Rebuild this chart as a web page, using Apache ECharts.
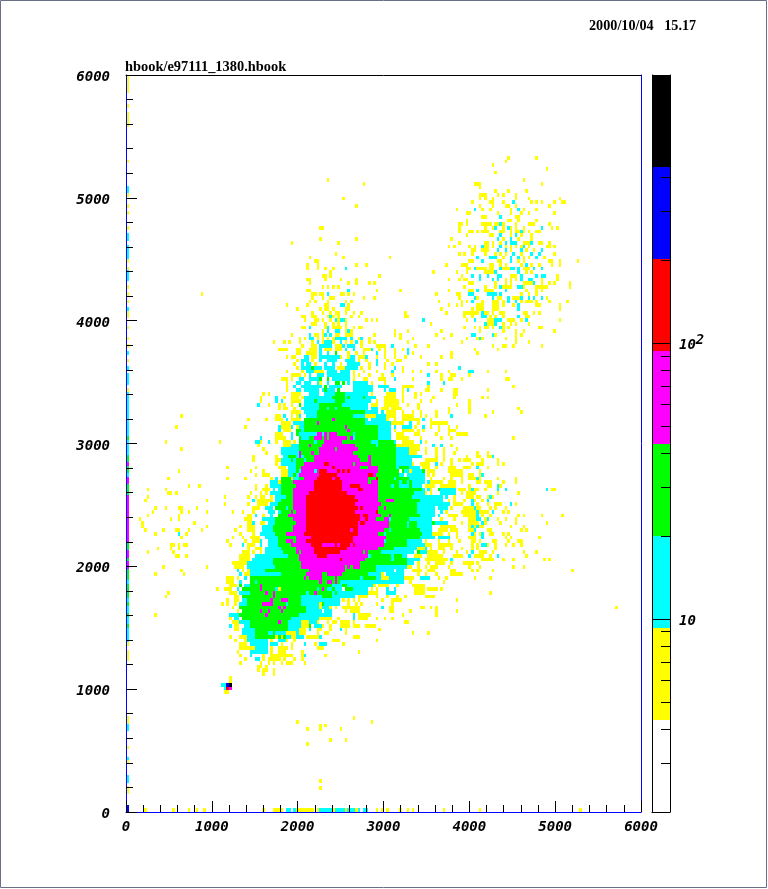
<!DOCTYPE html>
<html><head><meta charset="utf-8">
<style>html,body{margin:0;padding:0;background:#fff}#c{width:768px;height:889px}</style>
<script src="https://cdn.jsdelivr.net/npm/echarts@6/dist/echarts.min.js"></script>
</head><body><div id="c"></div>
<script>
const titleText = "hbook/e97111_1380.hbook";
const dateText = "2000/10/04   15.17";
const binSize = 30;
const colourEdges = [2, 4.32, 9.32, 20, 43, 93.6, 201, 435, 937];
const colours = ["#ffffff","#ffff00","#00ffff","#00ff00","#ff00ff","#ff0000","#0000ff","#000000"];
const levelCounts = {y:6, c:13, g:30, m:60, r:130, b:290, k:600};
const barMinorTicks = [3,4,5,6,7,8,9,20,30,40,50,60,70,80,90,200,300,400,500,600,700,800,900];
const barMajorTicks = [10,100];

// row, then level letter + x bins (bin = x/30, row = y/30); w = empty cell
const mainCloudBase = [
[112,110,'c',74,92],[109,106,'c',71,96],[109,106,'g',76,90],[105,100,'c',68,102],[105,100,'g',71,95],
[99,90,'c',63,110],[99,90,'g',67,104],[99,95,'m',76,88],[94,90,'m',70,94],
[89,80,'c',59,118],[89,80,'g',61,110],[89,80,'m',66,97],[79,70,'c',55,116],[79,70,'g',60,106],[79,70,'m',66,97],
[69,66,'c',51,108],[69,66,'g',58,102],[69,66,'m',69,89],[65,62,'c',48,103],[65,62,'g',54,90],
[61,58,'c',46,88],[61,58,'g',49,78],[57,52,'c',46,78],[57,52,'g',48,65],[51,47,'c',46,68],[51,47,'g',50,61],[46,43,'c',49,53]
];
const mottle = [
"112 w75 79 85 y88","111 w77 y82 87 91","110 w79 y74 c84 w90","109 c78 81 88 y72 w94","108 c76 79 86 90 y72 w95","107 c75 80 84 89 w71 y95","106 c73 77 85 91 y69 w94","105 c70 76 83 89 94 y67","104 c72 79 88 95 y68 w100","103 c71 75 82 91 96 y69 w101",
"102 c70 76 88 93 y68 w100","101 c69 72 88 94 y67 w98","100 c68 73 87 93 y65 w99","99 c66 69 92 97 y63 w105 y108","98 c66 68 95 101 y63 w107","97 c65 69 97 102 y64 w108","96 c64 68 98 103 y63 w109","95 c65 69 99 104 y64 w107","94 c66 70 98 103 y63 w106 109","93 c65 68 99 102 y63 w108",
"92 c64 67 100 103 w106 y110","91 c63 66 98 102 y62 w108","90 c62 65 99 104 w109 y112",
"89 c62 64 100 106 y59 w113 116","88 c61 103 108 y60 w115","87 c61 101 107 w116","86 c60 104 109 w114 117","85 c61 100 106 111 w116","84 c60 103 108 w117 120","83 c60 101 107 w115 119","82 c62 103 106 w118","81 c59 102 108 w117","80 c60 104 w116 119",
"79 c60 102 105 w113 117","78 c59 101 106 w115","77 c61 100 105 w112 116","76 c60 102 w114","75 c62 100 105 w113","74 c63 103 w112","73 c61 100 106 w110 115","72 c64 102 w112","71 c62 100 w108 113","70 c60 64 99 w109 112",
"69 c58 61 94 100 w105","68 c59 62 97 w107","67 c60 93 99 w106","66 c58 63 92 98 w104","65 c56 60 88 w101","64 c57 61 87 w100","63 c55 59 85 w99","62 c54 60 83 w97","61 c50 56 76 w86","60 c51 58 74 w84","59 c52 70 w85","58 c50 55 72 w82","57 c49 60 w76","56 c50 62 w74","55 c49 58 w73","54 c51 63 w76","53 c49 61 w70 74"
];
const sparseTop = [
"171 y78","170 y92","166 y84","164 y89","163 y128","159 y129","158 y75-76 129","157 y129","155 y75 89 126","154 y64 82 129",
"153 y125 127","151 y81 129","150 y71 84 102","149 y73-74","148 y70 74 89 93 124","147 y70 74 77 80 c85","146 y79 119 128","145 y76-77 79 98",
"144 y70-71 77 83 89 125 129","143 y71 86 89 94 96","142 y76 78 80 82","141 y70-71 c86 y97 106 125","140 y29 72-73 75-76 c78 y83-84 86 88 120 128-129",
"139 y72 76 79-80 92 96 129","138 y71 73 78 85 87 121","137 y62 70 77-78 c83-84 y86 125 128","136 y66 75 77-78 80 85-86 122",
"135 y72 76 79 81-82 85 88 91 108 124","134 y68-69 72-73 78 c79 y80 82 87 90 108-109","133 y69 73-74 76 79 c81 y82 c83-84 y85 93 95 97 c115",
"132 y72-73 77 80 82 85 118","131 y68-69 c71 y77 c78 y80-83 85 88 90-91","130 y76 c78 c81-82 y85 c86 y87 104 109 122",
"129 y64 c71 y73-74 76 c77 79 y81-82 85-86 87 96 104 106 120 126","128 y67 69 c71-72 y74 76 78 80 c81-85 87 y90 c91 y94 106 111 123",
"127 y57 61 63 67 72 c74 y76 c77-79 y80 c83 y85 87 c89 y91 94 96 109"
];
const mainCloudA = [
"126 y68 72-73 c75-79 y81-83 c84 86-88 y91 97-100 c103 y112 117","125 y59 60-62 66-67 71-73 c75 y77-79 81-83 c85 88 y92-94 c95 y98 100 104 107 c109",
"124 y66-67 70-73 c75 78 g81 y86 89 92 c97 y100 104 c109 y111 126 136","123 y62 64-65 c69-70 y72-73 c75-82 y83 86 c87-88 y90-92 c93 y97 100 104 108 114 122 126",
"122 y66 c68-70 y72 c75 78-81 85-88 y90 93 c97 y101 105-106","121 y65 c68 70-71 y73 c77 80 y83 c86-90 y94 c97 y100 103 117 120",
"120 y66 c68-71 g72 c73-75 77-80 y82-84 c85-89 y91 94 100 c104 y107 c129","119 y62 68 c70-72 y73-76 c78-81 83-86 y88 92 97 c103 y107 111 114 120 125 133-134",
"118 y64-67 69 c71 74-76 78-86 y88 90 94 99 103 c117 y122 126-127","117 y60-62 64 c67-68 71-74 g75 78 c80-86 y88 92-93 98-100 c104 y111 122 125-126 130",
"116 y62 c66-67 69-71 74 y75 c78 g81-82 84 c86 88-93 y95 100 c117 123","115 y62 c65 68-75 g77 c79-83 88-95 c98-101 y107-111 117",
"114 y62 c66-67 69-74 76-80 g77 82 c88-95 100 102-104 y107 c109 y116-117 122 127-128","113 y53 55 64-67 c71-74 77-93 g81-84 y95 101-104 107 112 114 127-128",
"112 y52 c58 y61 64-66 68 c69-75 77-91 g80-84 86 92 c93-96 y100-104 107 112 119 127","111 y52 c58 60 y64-66 67 c69-73 g73 c75-80 g81-84 c86-94 y97 100-105 107 114 118 133",
"110 c51 y55 59 61 64 g67 c69-75 g75-83 c86-93 y95-97 100-105 109 113 128","109 y59 61-62 65 c68-75 g75-77 82-86 c87-93 c97 y99-101 103-106 113 125 133",
"108 y64-67 c69-73 g74-80 82-91 g92 c93-97 c99 y101-104 107 111 114 120 125","107 y58-59 c61 y64 66-67 c67 c70-73 g74-87 c88-92 y93-96 c97-100 y101-104 107-111 114 116 120 c126",
"106 y47 54 58-60 c62 y64-67 c69-72 g69-79 m80 g81-92 c93 95 c97-100 y101 104 107-113 c115 y118","105 y60-63 c65-67 g69-92 m74 c93-97 c99-101 y103-107 c110 y113 118-124",
"104 y46 c59 y60-63 c64 y66 c67-72 g69-85 m85 g86-92 g93-97 c98-100 c104 c107-110 y112 c115 y118 121 125 128","103 c59 y61-63 g66-67 g69-85 m86 g87-97 c99-101 y104 107-111 113 115 121 125-127",
"102 y58-60 c64 g66 c67-73 m74-75 77 79-81 g83-84 86 90-97 c99-101 y105-107 112-113 120 125 128-130 131-132","101 c52 y58-60 61 c64 g67 g71-75 m73-75 77 79-85 87 g90-97 c98-101 y105-109 114 122 126",
"100 c50-51 y52 c55 y58 61-63 g67-72 g75 m77 78-83 g85-88 89-95 c95 g98-103 c104 y107-111 c114 y116","99 y51 61-63 g67-71 m71 g73-75 m76-89 g89-96 g100-104 y105-113 c119 122 y126",
"98 y53 c60-66 g67-71 g72 m75-80 g81 m82-89 g90-97 98-104 c105-109 y110-113 116 120 123 128","97 y54 c60-66 m67 g69-71 m72 75 m76-88 g88 g90-98 100-104 c105-110 y110-112 116 120 123 127 136",
"96 y49 58 c61-66 g63-65 m67 g69-71 m73-90 g90-93 m94 g96-101 102-105 c105-109 c110-114 y120 123 132","95 y49 58-60 c60-63 g64 66-68 71 m73-90 g91-93 m94 g97-105 c105-109 c110 y116-120 123 126 129 131-133",
"94 y58 c60-63 c64 g66-68 m69-76 r77-79 m79-87 g88 m90-93 m94 g97-100 102-104 c105-110 y111 114-117 c120 y122 126 134 136","93 y39 50 59-61 c63 g66-67 m68-79 r80 m81-90 g91-93 m94-97 g98-104 106-109 c110-113 y115-117 120 125-127 131-133",
"92 y48 53 60-62 c64 g66 m68-72 c73 r75-77 m79-81 r82 84 86 m88-97 g98-103 105 107 c109 c111-114 g115 y117-119 125-130","91 y50 53-55 60-62 c63 g65 m67-72 r75-81 m82-93 r94-95 m96 g98-104 g105 c110 c111-115 y117 119 126-130 133",
"90 y39 46 56 c58 g60-63 y64 g67 m69-73 r74-79 81-83 m83-93 g94 r97 g99-103 105-109 c111-115 y118 123 126 130 133-136","89 c56-58 g60-64 m65-72 r73-83 m84-90 g94 m96 g99-104 107 c109 111-115 y118-122 125-127 130",
"88 y50 54 c56-58 g60-65 m66-72 r73-83 m84-86 r87-89 90 m91-97 g98-101 104 c106-109 111-114 y116-119 122-127 133","87 y50 53-55 c57 g60-65 m65-72 r73-84 m84-88 r90-91 m92-97 g98-103 103-108 g109-114 c115 y118 g121 c122-127 y129-131 133-136",
"86 y48 52 54 c56-58 g60-65 m65-70 r71-85 m86-89 90-96 g98-105 106-111 c112-114 y116 118 c122-127 y130 132-134","85 y38 47 50 52-53 56 c58 c60 g62-65 m65-69 r70-89 m89-97 g99-105 106-110 c113-122 c124 y127 132-134",
"84 c49 y51-56 c58 g60-65 m65-69 r70-89 m90-98 g98-100 m101-103 g105-113 c114-122 y125 127 131"
];
const mainCloudB = [
"83 y38 47 51-54 c56-58 g59-65 m65-70 r70-89 m89-98 g99-103 105-112 c114-120 121-125 y127-130","82 y49-51 c54-56 g58-61 63 m65-70 r70-89 r91 m92-97 m100 g101-103 105-111 112 c114-119 121-124 y126 131-135",
"81 y41 45 49 c55-57 g60-63 m64 m66-70 r70-89 m89-95 r97 g99-103 105-112 c113 115-119 c122 y124 130-135","80 y47-48 c50 y53 c56 g59-62 m63-65 m66-70 r70-90 r92-93 m94-98 m102 g104-113 c114-119 c121 y125-128 131-135",
"79 y46-48 c53-55 g58-62 m65 66-70 r70-90 r93 m94-96 g97 m100-101 g103-109 c110-114 115-118 y122 127 133-135","78 y47-48 c49 y52-53 c56 g58-61 g62 m66-70 r70-89 r91-93 m93-97 m98-101 g104-108 110-112 c113-118 g119 c120-124 y130 133-135",
"77 y44 47-49 c53-56 g57-63 m65-69 r70-89 m90-97 98-101 g103-108 110-112 c114-118 y122-127 133-135","76 y42 47-49 c53-55 g57-63 m65 67 68-70 r70-86 m87 r88-90 m90-99 g103-108 109-113 c114-118 y121-124 126-128 134",
"75 y44 49 c52-54 c56-63 g58-62 m62-68 r69-87 r88-90 m90-97 g102-108 109-114 c115-118 y119-122 125 128 134","74 y41 45 48-51 c54-58 g59-63 m66-71 r72-87 m90-100 g103-108 109-113 c114-119 121-125 y128 134",
"73 y39 46 49-51 c52 c55-58 g59-62 m62-64 66-69 r70-87 m88-99 g101-104 105-108 c109-114 y116 121 125 129","72 y40 45 c45 y47-49 c52 55-58 g59-62 62-64 m64-71 r72-75 m76-80 r81 r83-86 88 m89-99 g100-108 c110-113 y116-118 121-126",
"71 y47 50-52 c54-58 g62-65 m66-71 r73-86 m86-97 g99-103 c104-110 y113-115 118 121-123 126 130","70 y45-47 49 52 c54-58 g62-63 64 67 m69-72 r73-82 m83-91 g92 94-97 c99-109 g113 y117-120 123 128 132",
"69 y44-47 c50-53 56-62 g63-67 m67-74 r74-77 m78-93 g95-101 104-106 c108 y112-114 117-122 127-130 135-137","68 y44-47 c49-53 54-56 g57-66 m67-83 r83 m85-92 g93-102 104-108 c109-113 y116-124 c126",
"67 y41-45 46 c47-56 g57-67 m68-91 g91-97 98-108 c109-111 y113 117 120-123 126 131-133 136","66 y42-45 c47-53 54-56 g58-67 m68-84 g85 87 m88-91 g91-97 c97-102 104-107 y109-110 113 116 118-120 125",
"65 c43 y45 47 c49-53 g56-61 62-69 m71-84 g85-90 91-96 c97-101 103 105-107 y111-114 117-119 126-127","64 c44 y46-47 c49 52-59 g60-69 m70-75 g77 m78-83 g85-90 91-93 c95-97 y99 c104-107 y113 116 120 126-130",
"63 y39-41 43 c46 g48-50 g51-66 68 m69 71-75 g76 79 m81 g84-90 92-96 y99-101 c104-108 y108-111 c114-117 y121 124 135","62 y39-41 c44 g48-49 g51-74 m75 78-79 81 c83-93 c95-98 100-102 104-107 y110 123",
"61 y40-42 g44 g48-51 m52 g53-79 c80 g84-85 c86-95 y96 98-101 105 111-115","60 y38-40 c43 g45-51 m52 g53-57 y59 g60-71 m76 c78-79 g80 85-87 c88-93 y95 97 c101 104 y112-115 117-120 122",
"59 y40-42 c44-46 g48-53 m54 57 g59 61 64-67 m73 g76-79 81 c85-93 y94-97 c101-104 y112-115","58 y42-43 g45-48 50-56 m57 g58-63 65-67 c68-75 g77-79 c81-88 y90-93 97 101 105 108 116-119",
"57 y39 42-43 c45 g47-56 m56 60-62 g65-67 c70-82 y84 86 88 90 99 103-105 106 128","56 y37 39 42 c44-45 g47-52 m53-56 g59 61 64-67 c68-74 y75 g76 c79-82 y86 89 91 97 103",
"55 y41 g44-50 52 54-58 m59 61 g64-70 c70-74 y75 79 81 84-86 87-90 c99 y102-103 114-115 118 120","54 y43 g45-51 m52 55 g57-60 m60 g63-69 c70-74 77-79 y85 87-90 102-103 110 120 128",
"53 c40-43 g44-52 m54 g57-62 64-66 c67-76 79 88 y90-94 107 120","52 y40 c42-43 g45-50 51-63 c64-74 y75-79 82 c88 y90-93 97 100 103",
"51 y41-43 c44-46 g48-59 m59 g61-62 c64-67 y68-70 c71-73 y74 78 80-81 83-86 88 108-109","50 c40 y42-43 c46-47 g48-62 c64-66 y68-70 g71 c73-75 y76 79 83-86 88-90 93-96",
"49 y42-43 c45-49 g50-62 c64-65 y67-69 c71 y74-75 79 c83 y85 98","48 c45-49 g50-53 c55-56 58-61 y62-65 67-69 74 77-78 85 111 117",
"47 y40 44-46 g50-53 55-57 y58 60 64-65 c66 y70-74 c75 y88-90","46 y42 46 c47-50 50-54 y56 c59-61 y62 65 80-82 97",
"45 y44-46 c48-54 56-58 y60 64 c69 y73 c75-76 77 y84","44 y44-49 c50-54 y56 59-62 64 74-76",
"43 y43 c48 50-54 y56 59-61 68 90","42 y44 c48 y53 56-60 61-64 68 c69 y77","41 y46 c50-51 y53 55-59 61 65 68","40 y44 52 55 57 60 62-64 69",
"39 y52 51 54","38 y51 54 53 57","37 y53 57","36 y40"
];
const upperCloud = [
"177 y148 159","176 y147","175 y142","174 y163","173 y143","171 y154","170 y135-137 161","169 y137","168 y143 148 155","167 y137-139 144 146 151","166 y137 139 142 151 156 168",
"165 y134 141-142 146 c150 y157 159 161 166 169-170","164 y137 142 147-148 151 164","163 y128 c135 y138 141 149 c152 y154 159","162 y132-133 144 149 153 156 166",
"161 y138-139 c145 y151-152","160 y132 148-149 152 159","159 y129-130 132 138-141 143-144 c145 y146 151 156-158 164","158 y129 139 142 c143 y146 c148 y149 151 154 c161 y165 167",
"157 y129 133-134 136 138-140 145-146 149 151-152 c153 y154 156 159-160","156 y132 141-142 c145 y149 c151 y153 157","155 y126 c144 y146 c149 y152 157",
"154 y129 139-140 142 145 c147 149-151 y154-156 c157 y160-161 164","153 y125 127 133 135 c138 y139-140 142 c145 y147 149 151 153 c154 y156 163-164 166",
"152 y134-135 138-140 c144 147 y149 c153 y155 158 c161","151 y129 131 134 139 143 145 147 c150 y153 c157 160 y166","150 c136 141-143 y146 c149 152 y154 156 c159 y162",
"149 y133-134 c138 y144-145 c149 y152 154 164-165 168 175","148 y124 130-132 141-142 145 147 153 c155 y157 160 165 168","147 y132-133 c135 y136-139 141-142 c145 y146-148 c149-150 152 y154-156 c158 161",
"146 y119 128 132 139-140 141-142 c143 152 y155 157","145 y130 c134 137 140 144-145 y149-151 c153 159 161-162 y167","144 y125 129 131-132 c137 142 144 y147 149 151 c153 156-157 y161 167",
"143 y133-134 143 147 149 154-157 c158 y161 164 166 172","142 y131 139 143 c145 y146-149 c152-153 y154 159-163 172","141 y125 133-134 c136 y139-142 c147 y155 159 161",
"140 y120 128-129 c133-134 140-143 145 y153 156 159","139 y129 c135 y136 c142 y144-145 c148 y150-152 c153 156 158 161 y163","138 y121 130 132 c134 y138 142-144 146 c148 151 y153 155-157 159 164 171",
"137 y125 128 130 136-138 142-144 146 150 c152 y159-160 168","136 y122 134 136-138 142-144 c152 y168","135 y124 131-136 c138 y139-140 142 145-146 154-155 158 160",
"134 y131 134 c138-139 y141 143 146 c152 y155-156","133 y132 c135 y140-142 c143-145 y148-150 153 c155 y168","132 y118 c139 y140-142 c143 y146 149 151 156",
"131 y131 135 137 139-140 142 c145 y146 148 160-161","130 y122 137 146 151 154 166","129 y120 126 c134-135 142 y143 151 153","128 y123 132 136 c137 y138 147 151","127 y130 151 156","126 y142 146-147 150 161","125 y135 144"
];
const rightFringe = [
"119 c133-134 y140 147","118 y133","117 y147-148","115 y150","114 y140","112 y138 140","110 y133","109 y152","108 y133 142 153","107 y139","101 y150",
"97 y140","96 y136-137 140-141 c142","95 y138 144","94 y134 137-138 144 146","93 c136 y140","92 y137","91 y134 137 c138","90 y134-135 c136 y137 144 151",
"89 y136-137 139-141 146 151","88 y133 140-141 c144 y145","87 c134 y135 139 c144 147 163 y165-166","86 y133-135 144 152","85 y136-137 140 c141 y142","84 c134 y135 138 c140",
"83 c134 y136 140 143-145 c149 y151","82 y133 c135 y136-137 141 143 147","81 c136 y137-140 c142 y146 148","80 y134 c136 y138 141 152 154 161 169","79 y133-134 c136-137 y139 c140 y144 147 151",
"78 y134 136 c138 y139 145 151 163","77 c134 136 y137-138 149 154","76 y133-134 c135 y140-141 153 155","75 c134 y135 137 c138 y141-142 146 148","74 y133-135 c138 y147 149 160",
"73 y134-135 137 142-143 148 152-153","72 y134 136 c138-139 y140 143 147 150 153","71 y134 136 143","70 c134 y137-139 142 154 159","69 c133 y135-138 141 c144 y155",
"68 y138-142 146 150 162 164","67 y134","66 y133 137 150 154","65 y134 136 142 173","63 y135 141","59 y141","55 y190"
];
const leftSparse = [
"107 y21","104 y19","100 y15 36","98 y21","92 y20","90 y16","88 y24 28","87 y8 15","86 y16-17 19","85 y8","84 y7 31","82 y11 15 20-21 27","81 y10 21 24 31","80 y8 20","79 y5 17 20",
"78 y6 26","77 y6 31","76 y7 14 19-20 24 29","75 y11 c20 y23","74 y21","72 y17-18 20 22-23","71 y12 17 20","70 y8 18","69 y19-20 23","66 y14 31","65 y21","64 y11 22","60 y35","59 y16","58 y15","53 y11"
];
const lowerSparse = [
"35 y40","34 c37-38 b39 k40","33 c38 r39 m40","32 y38-39","25 y88","24 y66 95","23 y77 75","22 y70 75 83","19 y79 85","18 y70","8 y75","6 y75"
];
const bottomStrip = "0 y7 18 24 27 30 53 57-58 59-60 c62-63 65 y66-72 74 c75-79 y80 c81-84 y85 c86-89 y89 c90 92-93 y97 99 101 106 109 111 123 137 176 b0";
const leftStripRuns = ["y",198,199,"y",195,197,"y",191,191,"y",186,189,"y",176,176,"c",168,169,"y",167,167,"y",164,164,"y",162,162,"y",158,158,"c",155,156,"c",150,153,"y",149,149,"y",147,147,"c",144,146,"y",142,142,"y",140,140,"y",138,138,"c",136,136,"y",134,135,"y",131,131,"y",128,128,"y",126,126,"c",124,124,"y",122,122,"c",120,120,"c",116,118,"y",114,114,"c",113,113,
"c",109,112,"c",102,108,"g",101,101,"c",97,100,"g",95,96,"m",94,94,"g",92,93,"c",91,91,"m",89,90,"g",86,88,"m",73,85,"g",71,72,"m",69,70,"g",68,68,"m",66,67,"g",63,65,"c",62,62,"g",58,61,"c",57,57,"g",56,56,"c",54,55,"g",53,53,"c",51,52,"g",50,50,"c",49,49,"c",47,48,"c",46,46,"y",45,45,"y",42,43,"y",41,41,"y",24,25,"c",22,23,"y",17,17,"c",14,14,"y",13,13,"c",8,9,"y",5,6,"b",0,1];

function buildCells(){
  const m = new Map();
  const put = (r,b,l)=>{ if(l==='w') m.delete(r*1000+b); else m.set(r*1000+b,l); };
  mainCloudBase.forEach(([a,z,l,s,e])=>{for(let r=z;r<=a;r++)for(let b=s;b<=e;b++)put(r,b,l);});
  const parse = row=>{
    const t=row.split(' '), r=+t[0]; let l='y';
    t.slice(1).forEach(k=>{
      if(/^[a-z]/.test(k)){l=k[0];k=k.slice(1);}
      const p=k.split('-'), s=+p[0], e=+(p[1]||p[0]);
      for(let b=s;b<=e;b++)put(r,b,l);
    });
  };
  [mottle,sparseTop,mainCloudA,mainCloudB,upperCloud,rightFringe,leftSparse,lowerSparse,[bottomStrip]].forEach(a=>a.forEach(parse));
  for(let i=0;i<leftStripRuns.length;i+=3)for(let r=leftStripRuns[i+1];r<=leftStripRuns[i+2];r++)put(r,0,leftStripRuns[i]);
  const out=[];
  m.forEach((l,k)=>{const r=Math.floor(k/1000),b=k%1000;out.push([b*binSize,r*binSize,levelCounts[l]]);});
  return out;
}
function colourOf(v){for(let i=colours.length-1;i>=0;i--)if(v>=colourEdges[i])return colours[i];return colours[0];}
const barData = colours.map((c,i)=>[colourEdges[i],colourEdges[i+1]]);
const labelFont = {fontFamily:'DejaVu Sans Mono',fontStyle:'italic',fontWeight:'bold',fontSize:14,color:'#000'};
const plain = v=>String(v);

const chart = echarts.init(document.getElementById('c'),null,{renderer:'canvas'});
chart.setOption({
  animation:false,
  backgroundColor:'#fff',
  grid:[{left:126,top:75,width:515,height:737},{left:652,top:75,width:18,height:737}],
  xAxis:[
    {gridIndex:0,type:'value',min:0,max:6000,interval:1000,z:6,splitLine:{show:false},
     axisLine:{lineStyle:{color:'#0000ff',width:1}},
     axisTick:{inside:true,length:11,lineStyle:{color:'#000',width:1}},
     minorTick:{show:true,splitNumber:5,length:7,lineStyle:{color:'#000',width:1}},
     axisLabel:Object.assign({margin:8,formatter:plain,hideOverlap:false,showMinLabel:true,showMaxLabel:true},labelFont)},
    {gridIndex:0,type:'value',min:0,max:6000,position:'top',z:6,axisLine:{onZero:false,lineStyle:{color:'#000'}},axisTick:{show:false},axisLabel:{show:false},splitLine:{show:false}},
    {gridIndex:1,type:'value',min:0,max:1,position:'bottom',z:6,axisLine:{lineStyle:{color:'#000'}},axisTick:{show:false},axisLabel:{show:false},splitLine:{show:false}},
    {gridIndex:1,type:'value',min:0,max:1,position:'top',z:6,axisLine:{onZero:false,show:false},axisTick:{show:false},axisLabel:{show:false},splitLine:{show:false}}
  ],
  yAxis:[
    {gridIndex:0,type:'value',min:0,max:6000,interval:1000,z:6,splitLine:{show:false},
     axisLine:{lineStyle:{color:'#0000ff',width:1}},
     axisTick:{inside:true,length:11,lineStyle:{color:'#000',width:1}},
     minorTick:{show:true,splitNumber:5,length:7,lineStyle:{color:'#000',width:1}},
     axisLabel:{margin:16,formatter:v=>'{n|'+v+'}',showMinLabel:true,showMaxLabel:true,
       rich:{n:Object.assign({},labelFont,{padding:[5,0,0,0]})}}},
    {gridIndex:0,type:'value',min:0,max:6000,position:'right',z:5,axisLine:{onZero:false,show:true,lineStyle:{color:'#0000ff'}},axisTick:{show:false},axisLabel:{show:false},splitLine:{show:false}},
    {gridIndex:1,type:'log',logBase:10,min:colourEdges[0],max:colourEdges[colourEdges.length-1],position:'right',z:6,splitLine:{show:false},
     axisLine:{show:true,onZero:false,lineStyle:{color:'#000'}},
     axisTick:{show:true,inside:true,length:9,customValues:barMinorTicks,lineStyle:{color:'#000'}},
     axisLabel:{show:true,customValues:barMajorTicks,margin:9,padding:[5,0,0,0],
       formatter:v=>Math.round(v)===100?'{n|10}{s|2}':'{n|10}',
       rich:{n:labelFont,s:Object.assign({},labelFont,{padding:[0,0,10,0]})}}},
    {gridIndex:1,type:'log',logBase:10,min:colourEdges[0],max:colourEdges[colourEdges.length-1],position:'left',z:6,splitLine:{show:false},
     axisLine:{show:true,onZero:false,lineStyle:{color:'#000'}},
     axisTick:{show:true,inside:true,length:18,customValues:barMajorTicks,lineStyle:{color:'#000'}},
     axisLabel:{show:false}}
  ],
  series:[
    {type:'custom',xAxisIndex:0,yAxisIndex:0,clip:true,data:buildCells(),z:2,silent:true,encode:{x:0,y:1},
     renderItem:(p,api)=>{
       const x=api.value(0),y=api.value(1);
       const a=api.coord([x,y+binSize]),b=api.coord([x+binSize,y]);
       const x0=Math.round(a[0]),y0=Math.round(a[1]),x1=Math.round(b[0]),y1=Math.round(b[1]);
       return {type:'rect',shape:{x:x0,y:y0,width:Math.max(1,x1-x0),height:Math.max(1,y1-y0)},style:{fill:colourOf(api.value(2))}};
     }},
    {type:'custom',xAxisIndex:2,yAxisIndex:2,clip:true,data:barData,z:2,silent:true,encode:{y:[0,1]},
     renderItem:(p,api)=>{
       const lo=api.coord([0,api.value(0)]),hi=api.coord([1,api.value(1)]);
       return {type:'rect',shape:{x:lo[0],y:Math.round(hi[1]),width:hi[0]-lo[0],height:Math.round(lo[1])-Math.round(hi[1])},style:{fill:colours[p.dataIndex]}};
     }}
  ],
  graphic:[
    {type:'rect',silent:true,z:0,shape:{x:0.5,y:0.5,width:766,height:887},style:{fill:'none',stroke:'#6a6f85',lineWidth:1}},
    {type:'text',silent:true,left:125,top:60,style:{text:titleText,fontFamily:'Liberation Serif',fontWeight:'bold',fontSize:14.4,fill:'#000'}},
    {type:'text',silent:true,left:589,top:19,style:{text:dateText,fontFamily:'Liberation Serif',fontWeight:'bold',fontSize:14.2,fill:'#000'}}
  ]
});
</script></body></html>
